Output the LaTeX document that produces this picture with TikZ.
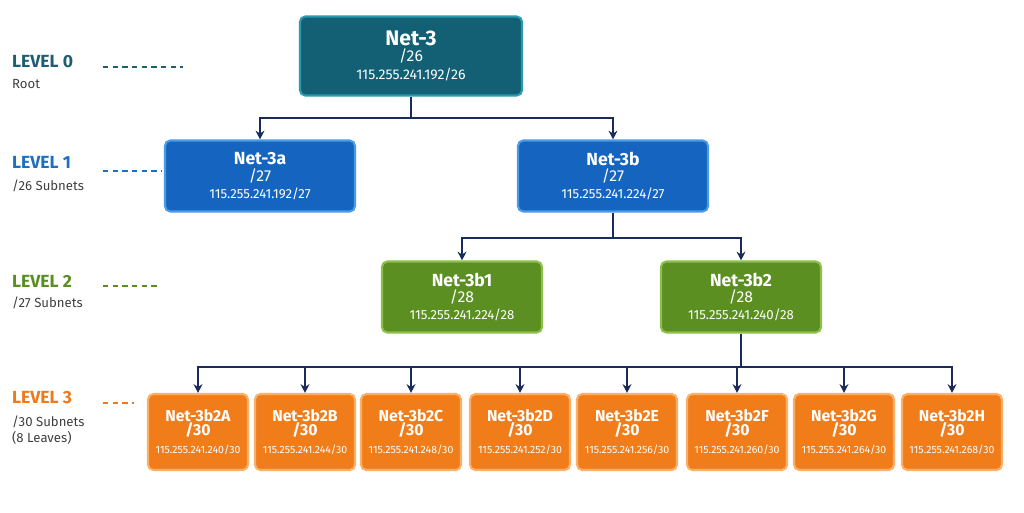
\documentclass[tikz,border=0pt]{standalone}
\usepackage{fontspec}
\setmainfont{Fira Sans}
\usetikzlibrary{arrows.meta,positioning}
\definecolor{tealF}{HTML}{135F73}\definecolor{tealD}{HTML}{2A9AAE}
\definecolor{blueF}{HTML}{1565C0}\definecolor{blueD}{HTML}{4A9AE8}
\definecolor{greenF}{HTML}{5B8F22}\definecolor{greenD}{HTML}{8CC04A}
\definecolor{orangeF}{HTML}{F07D1A}\definecolor{orangeD}{HTML}{FBB06A}
\definecolor{navy}{HTML}{1A2A5A}
\definecolor{lvTeal}{HTML}{1D5E70}\definecolor{lvBlue}{HTML}{1E6FC0}
\definecolor{lvGreen}{HTML}{5A8E22}\definecolor{lvOrange}{HTML}{EE7A1C}
\begin{document}
\begin{tikzpicture}[x=0.02cm,y=-0.02cm,
  box/.style={draw, line width=1.2pt, rounded corners=3pt, text=white, align=center, inner sep=1pt},
  root/.style={box, fill=tealF, draw=tealD, minimum width=4.44cm, minimum height=1.58cm, font=\fontsize{8}{10}\selectfont},
  mid/.style={box, fill=blueF, draw=blueD, minimum width=3.8cm, minimum height=1.42cm, font=\fontsize{7.5}{9.5}\selectfont},
  sub/.style={box, fill=greenF, draw=greenD, minimum width=3.2cm, minimum height=1.42cm, font=\fontsize{7.5}{9.5}\selectfont},
  leaf/.style={box, fill=orangeF, draw=orangeD, minimum width=2.0cm, minimum height=1.52cm, font=\fontsize{6}{9}\selectfont},
  link/.style={navy, line width=1.1pt},
  arr/.style={link, -{Stealth[length=5pt,width=5pt]}},
  lvl/.style={anchor=west, font=\bfseries\fontsize{10}{12}\selectfont},
  lsub/.style={anchor=west, align=left, text=black!75, font=\fontsize{7.5}{9.5}\selectfont},
  dots/.style={line width=1pt, dash pattern=on 3pt off 2.5pt}]
\useasboundingbox (0,0) rectangle (1024,512);
% boxes
\node[root] (n3) at (411,56) {{\bfseries\fontsize{12}{14}\selectfont Net-3}\\[-1pt]{\fontsize{9}{11}\selectfont /26}\\115.255.241.192/26};
\node[mid] (n3a) at (260,176) {{\bfseries\fontsize{10}{12}\selectfont Net-3a}\\{\fontsize{9}{11}\selectfont /27}\\115.255.241.192/27};
\node[mid] (n3b) at (613,176) {{\bfseries\fontsize{10}{12}\selectfont Net-3b}\\{\fontsize{9}{11}\selectfont /27}\\115.255.241.224/27};
\node[sub] (n3b1) at (462,297) {{\bfseries\fontsize{10}{12}\selectfont Net-3b1}\\{\fontsize{9}{11}\selectfont /28}\\115.255.241.224/28};
\node[sub] (n3b2) at (741,297) {{\bfseries\fontsize{10}{12}\selectfont Net-3b2}\\{\fontsize{9}{11}\selectfont /28}\\115.255.241.240/28};
\foreach \l/\x/\a [count=\i] in {A/198/240,B/305/244,C/411/248,D/520/252,E/627/256,F/737/260,G/844/264,H/952/268}{
  \node[leaf] (leaf\l) at (\x,432) {{\bfseries\fontsize{9}{11}\selectfont Net-3b2\l}\\[-1pt]{\bfseries\fontsize{9}{11}\selectfont /30}\\[1pt]115.255.241.\a/30};
}
% connectors
\coordinate (j0) at (411,118);
\coordinate (j1) at (613,238);
\coordinate (j2) at (741,367);
\draw[link] (n3) -- (j0);
\draw[arr] (j0) -| (n3a);
\draw[arr] (j0) -| (n3b);
\draw[link] (n3b) -- (j1);
\draw[arr] (j1) -| (n3b1);
\draw[arr] (j1) -| (n3b2);
\draw[link] (n3b2) -- (j2);
\foreach \l in {A,B,C,D,E,F,G,H}{\draw[arr] (j2) -| (leaf\l);}
% level labels
\node[lvl, text=lvTeal] (l0) at (6,62) {LEVEL 0};
\node[lsub] (s0) at (6,84) {Root};
\draw[dots, lvTeal] (103,67) -- (183,67);
\node[lvl, text=lvBlue] (l1) at (6,162) {LEVEL 1};
\node[lsub] (s1) at (6,186) {/26 Subnets};
\draw[dots, lvBlue] (103,171) -- (162,171);
\node[lvl, text=lvGreen] (l2) at (6,281) {LEVEL 2};
\node[lsub] (s2) at (6,303) {/27 Subnets};
\draw[dots, lvGreen] (103,286) -- (160,286);
\node[lvl, text=lvOrange] (l3) at (6,398) {LEVEL 3};
\node[lsub] (s3) at (6,430) {/30 Subnets\\(8 Leaves)};
\draw[dots, lvOrange] (103,403) -- (134,403);
\end{tikzpicture}
\end{document}
